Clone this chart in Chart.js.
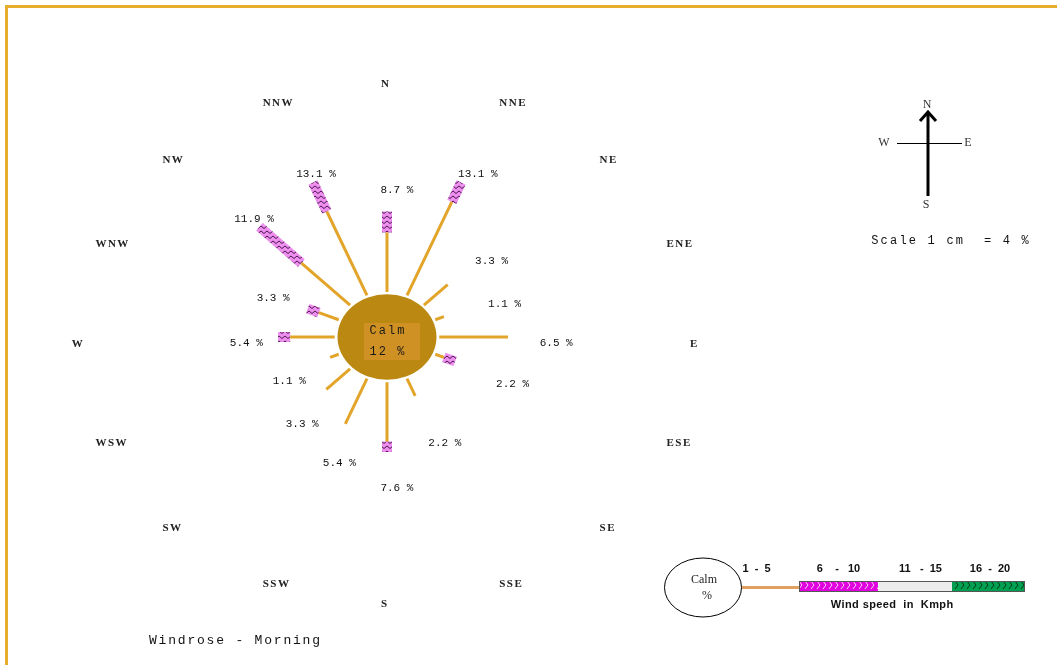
<!DOCTYPE html>
<html>
<head>
<meta charset="utf-8">
<title>Windrose - Morning</title>
<script src="https://cdn.jsdelivr.net/npm/chart.js@4.4.1/dist/chart.umd.min.js"></script>
<style>
  html, body { margin: 0; padding: 0; background: #fff; }
  #wrap { position: relative; width: 1057px; height: 665px; overflow: hidden; }
</style>
</head>
<body>
<div id="wrap"><canvas id="chart" width="1057" height="665"></canvas></div>
<script>
// wind directions, clockwise from north
const directions = ['N', 'NNE', 'NE', 'ENE', 'E', 'ESE', 'SE', 'SSE', 'S', 'SSW', 'SW', 'WSW', 'W', 'WNW', 'NW', 'NNW'];
// % of time per speed band (Kmph)
const speed1to5 = [6.5, 10.9, 3.3, 1.1, 6.5, 1.1, 0, 2.2, 6.5, 5.4, 3.3, 1.1, 4.3, 2.2, 6.5, 9.8];
const speed6to10 = [2.2, 2.2, 0, 0, 0, 1.1, 0, 0, 1.1, 0, 0, 0, 1.1, 1.1, 5.4, 3.3];
const totalPercent = [8.7, 13.1, 3.3, 1.1, 6.5, 2.2, 0, 2.2, 7.6, 5.4, 3.3, 1.1, 5.4, 3.3, 11.9, 13.1];
const calmPercent = 12;
const speedBands = ['1  -  5', '6    -   10', '11   -  15', '16  -  20'];

// layout
const CALM_R = 4.5;          // calm circle radius in % units
const X_PX = 11, Y_PX = 9.5; // pixels per % on each axis
const CX = 387, CY = 337;    // centre of rose in pixels
const W = 1057, H = 665;

const MONO = '"Liberation Mono", "Courier New", monospace';
const SERIF = '"Liberation Serif", "Times New Roman", serif';
const SANS = '"Liberation Sans", Arial, sans-serif';

function polar(r, i) {
  const a = i * Math.PI / 8;
  return { x: r * Math.sin(a), y: r * Math.cos(a) };
}

function makePattern(bg, fg, w, h, draw) {
  const c = document.createElement('canvas');
  c.width = w; c.height = h;
  const g = c.getContext('2d');
  g.fillStyle = bg;
  g.fillRect(0, 0, w, h);
  g.strokeStyle = fg;
  g.lineWidth = 1;
  draw(g);
  return c.getContext('2d').createPattern(c, 'repeat');
}

const pinkZigzag = makePattern('#ee8eee', '#4a1850', 6, 5, (g) => {
  g.beginPath(); g.moveTo(0, 3.5); g.lineTo(3, 1); g.lineTo(6, 3.5); g.stroke();
});
const magentaChevron = makePattern('#e000e0', '#ffd0ff', 6, 10, (g) => {
  g.beginPath(); g.moveTo(1, 1); g.lineTo(4, 5); g.lineTo(1, 9); g.stroke();
});
const greenChevron = makePattern('#00a050', '#003818', 6, 10, (g) => {
  g.beginPath(); g.moveTo(1, 1); g.lineTo(4, 5); g.lineTo(1, 9); g.stroke();
});

// spokes: 1-5 band as thin line, 6-10 band as thick patterned block
const innerPts = [];
const outerPts = [];
directions.forEach((d, i) => {
  if (totalPercent[i] <= 0) return;
  const r1 = CALM_R + speed1to5[i];
  innerPts.push(polar(CALM_R + 0.25, i), polar(r1, i), { x: null, y: null });
  if (speed6to10[i] > 0) {
    outerPts.push(polar(r1, i), polar(r1 + speed6to10[i], i), { x: null, y: null });
  }
});

function spacedText(ctx, txt, x, y, spacing) {
  if ('letterSpacing' in ctx) {
    ctx.letterSpacing = spacing + 'px';
    // letterSpacing adds trailing space, compensate for centred text
    const shift = ctx.textAlign === 'center' ? spacing / 2 : 0;
    ctx.fillText(txt, x + shift, y);
    ctx.letterSpacing = '0px';
  } else {
    ctx.fillText(txt, x, y);
  }
}

const windrosePlugin = {
  id: 'windrose',
  beforeDraw(chart) {
    const ctx = chart.ctx;
    ctx.save();
    ctx.fillStyle = '#ffffff';
    ctx.fillRect(0, 0, chart.width, chart.height);
    // frame
    ctx.fillStyle = '#e6ae2c';
    ctx.fillRect(5, 5, chart.width - 5, 3);
    ctx.fillRect(5, 5, 3, chart.height - 5);
    ctx.restore();
  },
  beforeDatasetsDraw(chart) {
    const ctx = chart.ctx;
    const xs = chart.scales.x, ys = chart.scales.y;
    const cx = xs.getPixelForValue(0), cy = ys.getPixelForValue(0);
    const rx = xs.getPixelForValue(CALM_R) - cx;
    const ry = cy - ys.getPixelForValue(CALM_R);
    ctx.save();
    ctx.fillStyle = '#bb8912';
    ctx.beginPath();
    ctx.ellipse(cx, cy, rx, ry, 0, 0, Math.PI * 2);
    ctx.fill();
    ctx.fillStyle = '#cf9124';
    ctx.fillRect(cx - 23, cy - 14, 56, 37);
    ctx.fillStyle = '#1a1a1a';
    ctx.font = '12px ' + MONO;
    ctx.textAlign = 'center';
    ctx.textBaseline = 'middle';
    spacedText(ctx, 'Calm', cx, cy - 6, 2);
    spacedText(ctx, calmPercent + ' %', cx, cy + 15, 2);
    ctx.restore();
  },
  afterDatasetsDraw(chart) {
    const ctx = chart.ctx;
    const xs = chart.scales.x, ys = chart.scales.y;
    const px = (p) => ({ x: xs.getPixelForValue(p.x), y: ys.getPixelForValue(p.y) });
    ctx.save();
    ctx.textBaseline = 'middle';

    // direction names round the rose (text starts at the ring point)
    ctx.textAlign = 'left';
    ctx.fillStyle = '#222';
    ctx.font = 'bold 11px ' + SERIF;
    directions.forEach((d, i) => {
      const a = i * Math.PI / 8;
      const p = px({ x: -0.55 + 28.1 * Math.sin(a), y: -0.74 + 27.4 * Math.cos(a) });
      spacedText(ctx, d, p.x, p.y, 1.5);
    });

    // percentage labels
    ctx.textAlign = 'center';
    ctx.font = '11px ' + MONO;
    ctx.fillStyle = '#111';
    directions.forEach((d, i) => {
      if (totalPercent[i] <= 0) return;
      const q = polar(9.8 + 0.72 * totalPercent[i], i);
      const p = px({ x: q.x + 0.9, y: q.y - 0.6 });
      ctx.fillText(totalPercent[i].toFixed(1) + ' %', p.x, p.y);
    });

    // compass symbol
    ctx.strokeStyle = '#000';
    ctx.lineWidth = 3;
    ctx.beginPath();
    ctx.moveTo(928, 196); ctx.lineTo(928, 112);
    ctx.moveTo(920, 121); ctx.lineTo(928, 112); ctx.lineTo(936, 121);
    ctx.stroke();
    ctx.lineWidth = 1;
    ctx.beginPath();
    ctx.moveTo(897, 143.5); ctx.lineTo(962, 143.5);
    ctx.stroke();
    ctx.fillStyle = '#333';
    ctx.font = '12px ' + SERIF;
    ctx.fillText('N', 927, 105);
    ctx.fillText('W', 884, 143);
    ctx.fillText('E', 968, 143);
    ctx.fillText('S', 926, 205);
    ctx.fillStyle = '#111';
    ctx.font = '12px ' + MONO;
    spacedText(ctx, 'Scale 1 cm  = 4 %', 950, 241, 2.2);

    // title
    ctx.textAlign = 'left';
    ctx.font = '13px ' + MONO;
    spacedText(ctx, 'Windrose - Morning', 149, 641, 1.8);

    // speed legend
    ctx.textAlign = 'center';
    ctx.strokeStyle = '#000';
    ctx.lineWidth = 1;
    ctx.beginPath();
    ctx.ellipse(703, 587.5, 38.5, 29.5, 0, 0, Math.PI * 2);
    ctx.stroke();
    ctx.fillStyle = '#222';
    ctx.font = '12px ' + SERIF;
    ctx.fillText('Calm', 704, 580);
    ctx.fillText('%', 707, 596);
    ctx.strokeStyle = '#e0a060';
    ctx.lineWidth = 3;
    ctx.beginPath();
    ctx.moveTo(742, 587.5); ctx.lineTo(799, 587.5);
    ctx.stroke();
    ctx.fillStyle = magentaChevron;
    ctx.fillRect(799, 581, 79, 11);
    ctx.fillStyle = '#ececec';
    ctx.fillRect(878, 581, 74, 11);
    ctx.fillStyle = greenChevron;
    ctx.fillRect(952, 581, 73, 11);
    ctx.strokeStyle = '#555';
    ctx.lineWidth = 1;
    ctx.strokeRect(799.5, 581.5, 225, 10);
    ctx.fillStyle = '#111';
    ctx.font = 'bold 11px ' + SANS;
    const bandX = [756.5, 838.5, 920.5, 990];
    speedBands.forEach((b, i) => ctx.fillText(b, bandX[i], 569));
    spacedText(ctx, 'Wind speed  in  Kmph', 892, 605, 0.4);
    ctx.restore();
  }
};

new Chart(document.getElementById('chart'), {
  type: 'scatter',
  data: {
    datasets: [
      {
        label: '1 - 5',
        data: innerPts,
        showLine: true,
        spanGaps: false,
        borderColor: '#e2a52a',
        borderWidth: 3,
        borderCapStyle: 'butt',
        pointRadius: 0,
      },
      {
        label: '6 - 10',
        data: outerPts,
        showLine: true,
        spanGaps: false,
        borderColor: pinkZigzag,
        borderWidth: 10,
        borderCapStyle: 'butt',
        pointRadius: 0,
      },
    ],
  },
  options: {
    responsive: false,
    animation: false,
    layout: { padding: 0 },
    scales: {
      x: { type: 'linear', display: false, min: -CX / X_PX, max: (W - CX) / X_PX },
      y: { type: 'linear', display: false, min: -(H - CY) / Y_PX, max: CY / Y_PX },
    },
    plugins: {
      legend: { display: false },
      tooltip: { enabled: false },
    },
  },
  plugins: [windrosePlugin],
});
</script>
</body>
</html>
